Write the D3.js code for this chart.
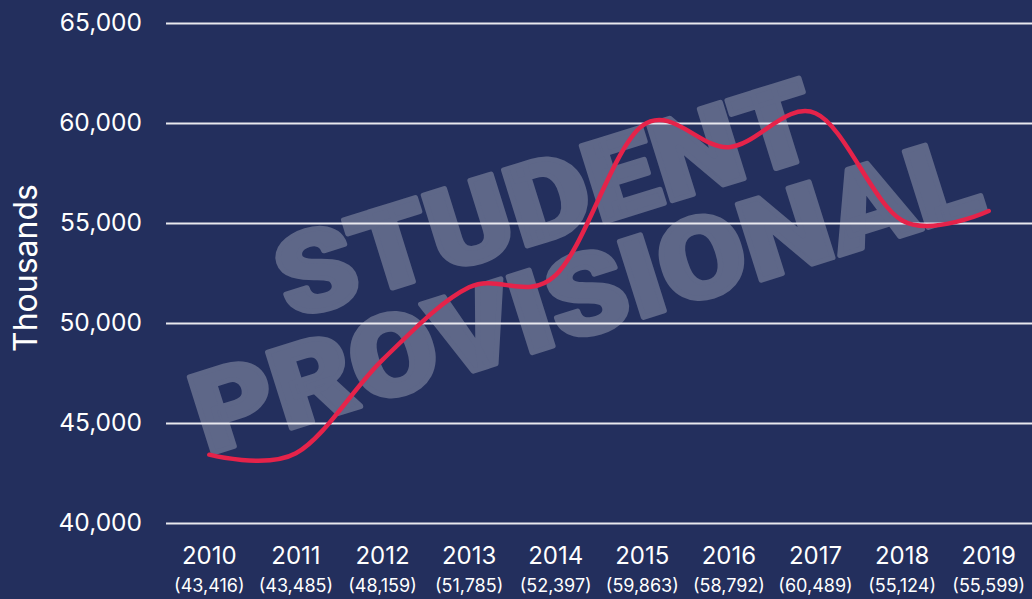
<!DOCTYPE html>
<html>
<head>
<meta charset="utf-8">
<script src="https://cdn.jsdelivr.net/npm/d3@7"></script>
<style>
  html, body { margin: 0; padding: 0; background: #232f5d; }
  svg { display: block; }
</style>
</head>
<body>
<div id="content"></div>
<script>
var years = ["2010", "2011", "2012", "2013", "2014", "2015", "2016", "2017", "2018", "2019"];
var values = [43416, 43485, 48159, 51785, 52397, 59863, 58792, 60489, 55124, 55599];
var yTicks = [40000, 45000, 50000, 55000, 60000, 65000];
var watermark = ["STUDENT", "PROVISIONAL"];

var W = 1032, H = 599;
var margin = { top: 23, right: 0, bottom: 76, left: 166 };
var width = W - margin.left - margin.right,
    height = H - margin.top - margin.bottom;

var fmt = d3.format(",");
var font = "Inter, Lato, 'Open Sans', sans-serif";

var x = d3.scaleBand()
    .domain(years)
    .range([0, width]);
var y = d3.scaleLinear()
    .domain([40000, 65000])
    .range([height, 0]);

var svg = d3.select("#content").append("svg")
    .attr("width", W)
    .attr("height", H);

svg.append("rect")
    .attr("width", W)
    .attr("height", H)
    .attr("fill", "#232f5d");

// watermark sits under the grid and the line
var wm = svg.append("g")
    .attr("fill", "#5e6788")
    .attr("stroke", "#5e6788")
    .attr("stroke-width", 5)
    .attr("stroke-linejoin", "round")
    .style("font-family", "Roboto, Inter, sans-serif")
    .style("font-weight", 900)
    .style("font-size", "112px");
wm.append("text")
    .attr("transform", "translate(290,320) rotate(-17.3)")
    .attr("textLength", 560)
    .attr("lengthAdjust", "spacingAndGlyphs")
    .text(watermark[0]);
wm.append("text")
    .attr("transform", "translate(207,455) rotate(-17.5)")
    .attr("textLength", 818)
    .attr("lengthAdjust", "spacingAndGlyphs")
    .text(watermark[1]);

var g = svg.append("g")
    .attr("transform", "translate(" + margin.left + "," + margin.top + ")");

// y axis: gridlines + labels
var yAxis = g.append("g")
    .call(d3.axisLeft(y)
      .tickValues(yTicks)
      .tickSize(-width)
      .tickPadding(24)
      .tickFormat(fmt));
yAxis.select(".domain").remove();
yAxis.selectAll(".tick line")
    .attr("stroke", "#e8e8ee")
    .attr("stroke-width", 2);
yAxis.selectAll(".tick text")
    .attr("fill", "#ffffff")
    .style("font-family", font)
    .style("font-size", "24.5px");

// x axis: year + value in brackets
var xAxis = g.append("g")
    .attr("transform", "translate(0," + height + ")")
    .call(d3.axisBottom(x).tickSize(0).tickFormat(""));
xAxis.select(".domain").remove();
xAxis.selectAll(".tick").each(function (d, i) {
  var t = d3.select(this);
  t.append("text")
      .attr("y", 41)
      .attr("text-anchor", "middle")
      .attr("fill", "#ffffff")
      .style("font-family", font)
      .style("font-size", "24px")
      .text(d);
  t.append("text")
      .attr("y", 69)
      .attr("text-anchor", "middle")
      .attr("fill", "#ffffff")
      .style("font-family", font)
      .style("font-size", "18px")
      .text("(" + fmt(values[i]) + ")");
});

// y title
svg.append("text")
    .attr("transform", "translate(37,268) rotate(-90)")
    .attr("text-anchor", "middle")
    .attr("fill", "#ffffff")
    .style("font-family", font)
    .style("font-size", "32px")
    .text("Thousands");

var line = d3.line()
    .curve(d3.curveCardinal.tension(0))
    .x(function (d, i) { return x(years[i]) + x.bandwidth() / 2; })
    .y(function (d) { return y(d); });

g.append("path")
    .datum(values)
    .attr("fill", "none")
    .attr("stroke", "#e5234a")
    .attr("stroke-width", 4.5)
    .attr("stroke-linecap", "round")
    .attr("d", line);
</script>
</body>
</html>
